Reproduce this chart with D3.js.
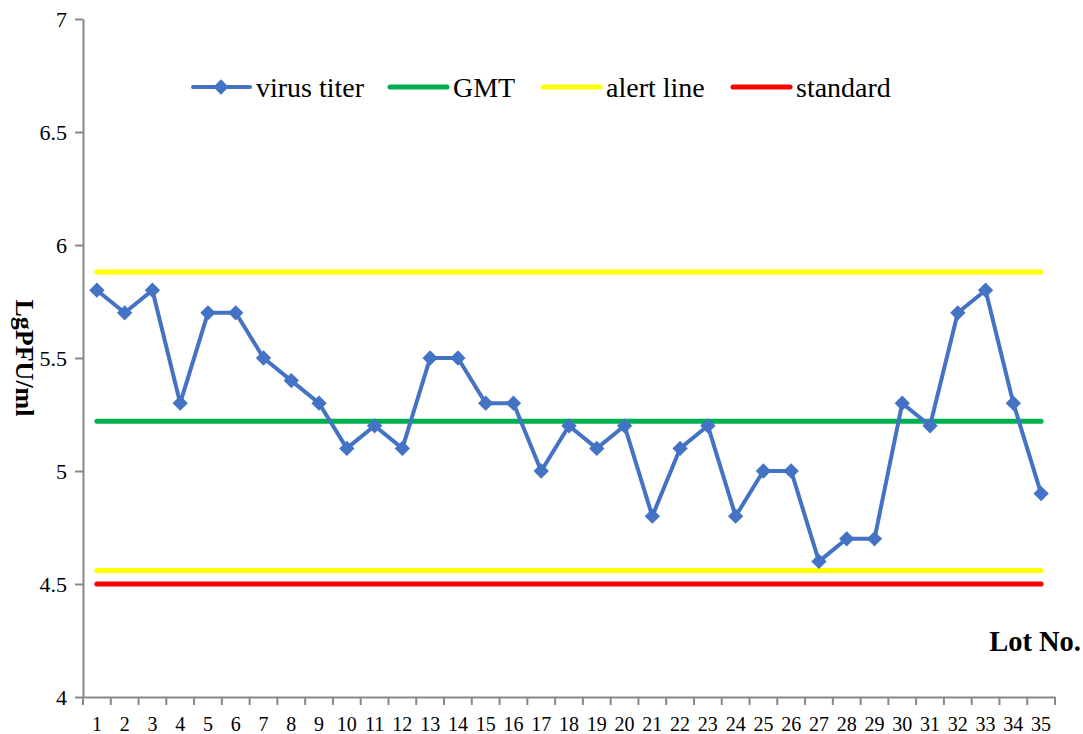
<!DOCTYPE html>
<html><head><meta charset="utf-8">
<script src="https://cdn.jsdelivr.net/npm/d3@7"></script>
<style>body{margin:0;background:#fff}</style>
</head><body><svg id="c" width="1083" height="734"></svg>
<script>
const lots = d3.range(1, 36).map(String);
const titer = [5.8,5.7,5.8,5.3,5.7,5.7,5.5,5.4,5.3,5.1,5.2,5.1,5.5,5.5,5.3,5.3,5.0,5.2,5.1,5.2,4.8,5.1,5.2,4.8,5.0,5.0,4.6,4.7,4.7,5.3,5.2,5.7,5.8,5.3,4.9];
const gmt = 5.22;
const alertUpper = 5.88;
const alertLower = 4.56;
const standard = 4.5;
const yTicks = [4, 4.5, 5, 5.5, 6, 6.5, 7];
const legendItems = [
  {name: "virus titer", color: "#4472C4", marker: true},
  {name: "GMT", color: "#00B050"},
  {name: "alert line", color: "#FFFF00"},
  {name: "standard", color: "#FF0000"}
];

const svg = d3.select("#c");
const L = 83, R = 1055, T = 19, B = 697;
const x = d3.scaleBand().domain(lots).range([L, R]);
const y = d3.scaleLinear().domain([4, 7]).range([B, T]);
const font = "'Liberation Serif','Times New Roman',serif";

// y axis
const ya = svg.append("g").attr("transform", `translate(${L},0)`)
  .call(d3.axisLeft(y).tickValues(yTicks).tickFormat(d3.format("")).tickSize(8).tickSizeOuter(0));
ya.attr("font-family", font);
ya.select(".domain").attr("stroke", "#888").attr("stroke-width", 2);
ya.selectAll(".tick line").attr("stroke", "#888").attr("stroke-width", 2);
ya.selectAll(".tick text").attr("font-family", font).attr("font-size", 22).attr("fill", "#000").attr("x", -16);

// x axis
const xa = svg.append("g").attr("transform", `translate(0,${B})`)
  .call(d3.axisBottom(x).tickSize(0));
xa.attr("font-family", font);
xa.select(".domain").attr("stroke", "#888").attr("stroke-width", 2);
xa.selectAll(".tick line").remove();
xa.selectAll(".tick text").attr("font-family", font).attr("font-size", 20).attr("fill", "#000")
  .attr("y", 34).attr("dy", 0);
const bounds = lots.map(d => x(d)).concat([R]);
svg.append("g").selectAll("line").data(bounds).join("line")
  .attr("x1", d => d).attr("x2", d => d).attr("y1", B).attr("y2", B + 8)
  .attr("stroke", "#888").attr("stroke-width", 2);

const cx = d => x(d) + x.bandwidth() / 2;
const x0 = cx(lots[0]), x1 = cx(lots[lots.length - 1]);

// reference lines
const refs = [
  {v: alertUpper, c: "#FFFF00"},
  {v: alertLower, c: "#FFFF00"},
  {v: standard, c: "#FF0000"},
  {v: gmt, c: "#00B050"}
];
svg.append("g").selectAll("line").data(refs).join("line")
  .attr("x1", x0).attr("x2", x1).attr("y1", d => y(d.v)).attr("y2", d => y(d.v))
  .attr("stroke", d => d.c).attr("stroke-width", 5).attr("stroke-linecap", "round");

// series
const line = d3.line().x((d, i) => cx(lots[i])).y(d => y(d));
svg.append("path").datum(titer).attr("d", line).attr("fill", "none")
  .attr("stroke", "#4472C4").attr("stroke-width", 4).attr("stroke-linejoin", "round");
const diamond = d3.symbol().type(d3.symbolDiamond2).size(150);
svg.append("g").selectAll("path").data(titer).join("path")
  .attr("d", diamond).attr("fill", "#4472C4")
  .attr("transform", (d, i) => `translate(${cx(lots[i])},${y(d)})`);

// legend
const lx = [193, 390, 543, 733];
const lg = svg.append("g").selectAll("g").data(legendItems).join("g")
  .attr("transform", (d, i) => `translate(${lx[i]},87)`);
lg.append("line").attr("x1", 0).attr("x2", 57).attr("stroke", d => d.color)
  .attr("stroke-width", d => d.marker ? 4 : 5).attr("stroke-linecap", "round");
lg.filter(d => d.marker).append("path").attr("d", diamond).attr("fill", d => d.color)
  .attr("transform", "translate(28,0)");
lg.append("text").attr("x", 63).attr("dy", "0.35em").attr("font-family", font)
  .attr("font-size", 28).text(d => d.name);

// axis titles
svg.append("text").attr("transform", "translate(16,358) rotate(90)")
  .attr("text-anchor", "middle").attr("font-family", font).attr("font-weight", "bold")
  .attr("font-size", 26).text("LgPFU/ml");
svg.append("text").attr("x", 1081).attr("y", 651).attr("text-anchor", "end")
  .attr("font-family", font).attr("font-weight", "bold").attr("font-size", 28.5).text("Lot No.");
</script></body></html>
